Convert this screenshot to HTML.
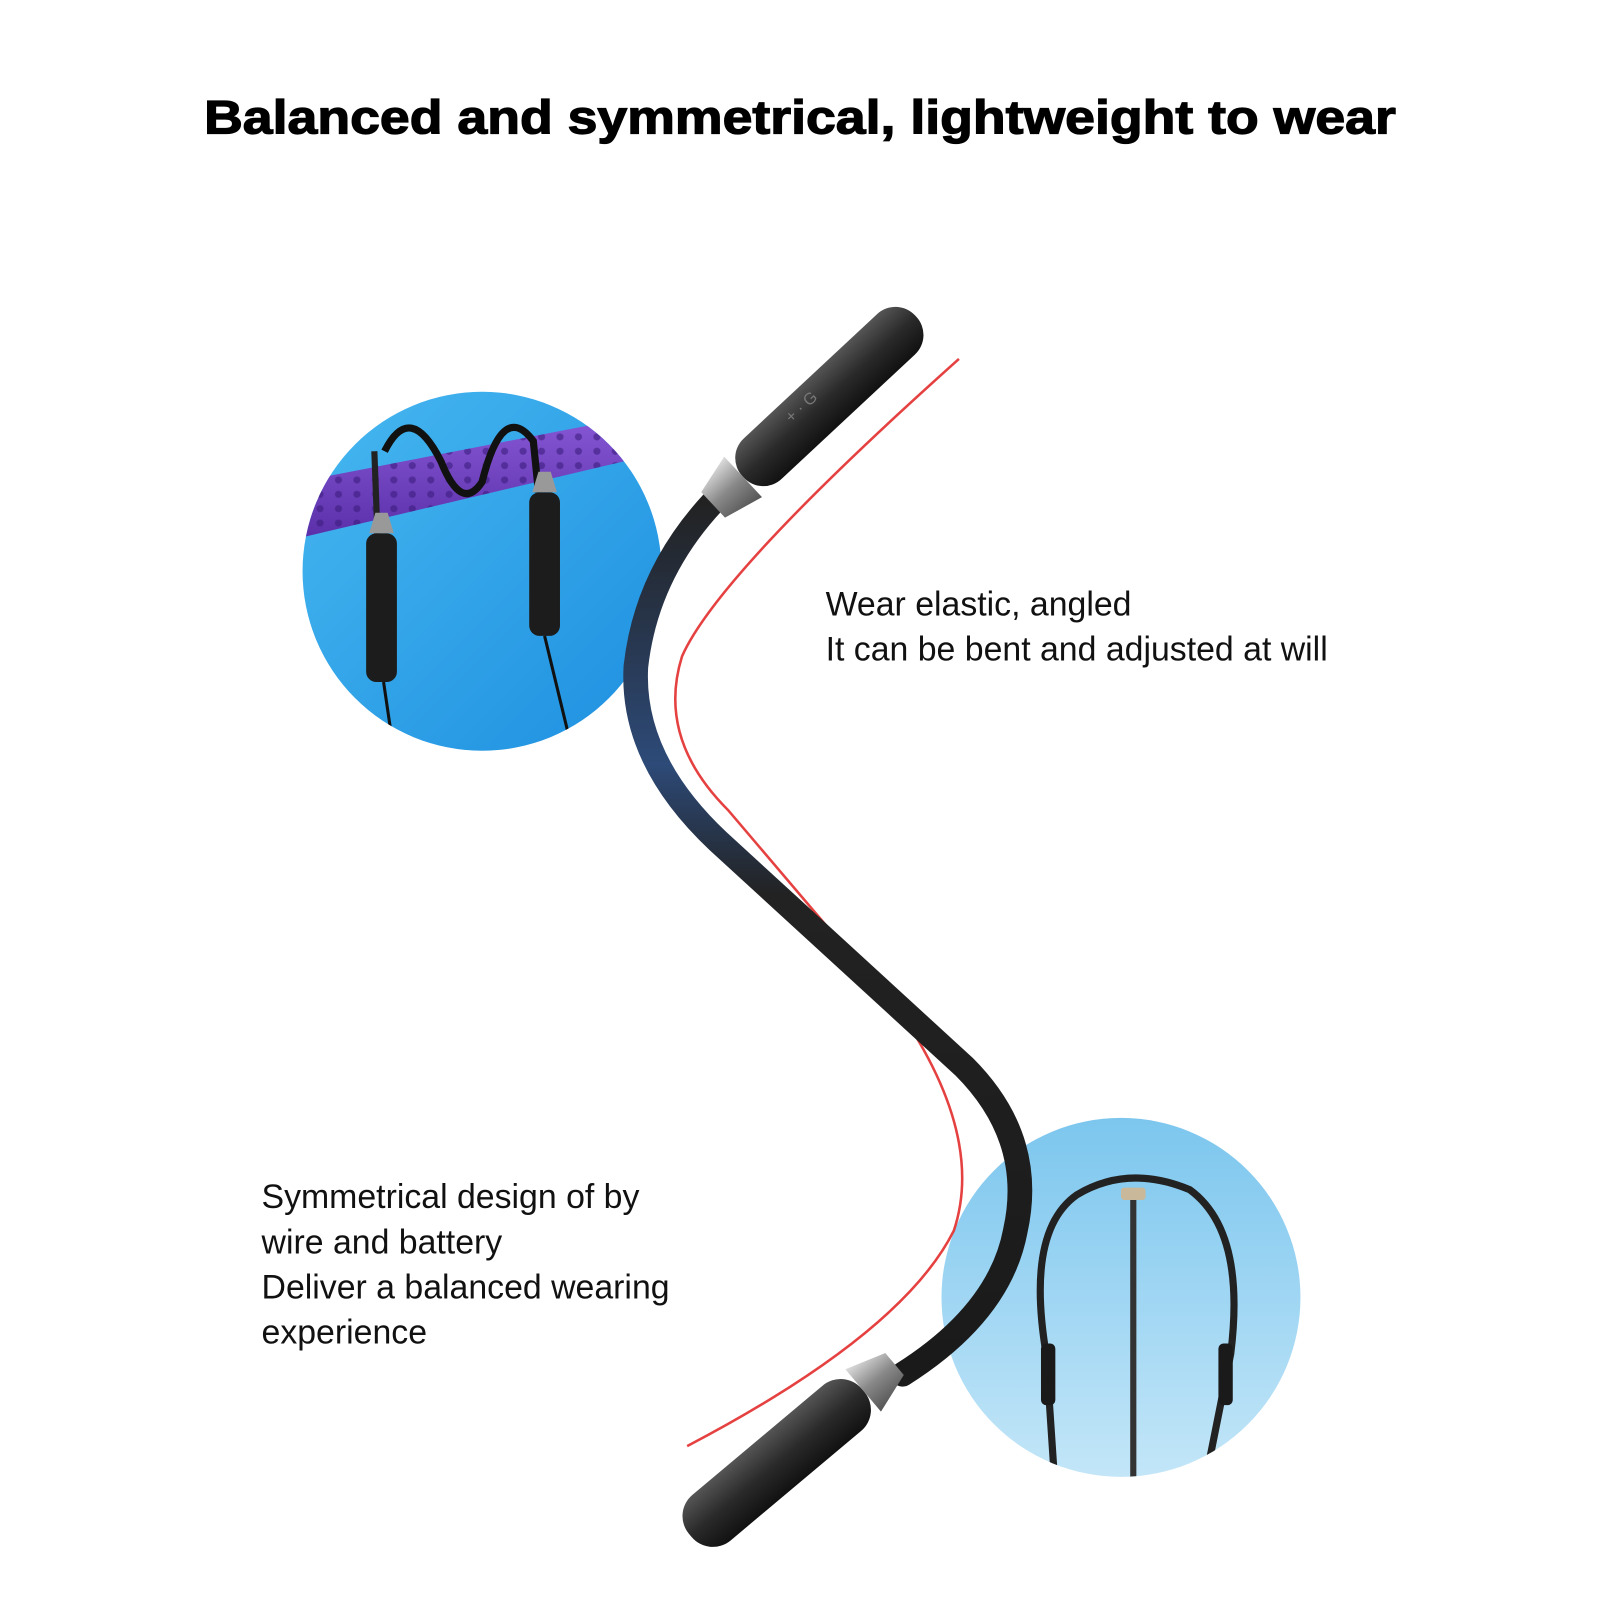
<!DOCTYPE html>
<html><head><meta charset="utf-8"><style>
html,body{margin:0;padding:0;background:#fff}
svg{display:block}
</style></head><body>
<svg width="1600" height="1600" viewBox="0 0 1600 1600" xmlns="http://www.w3.org/2000/svg">
<defs>
<linearGradient id="c1" x1="0" y1="0" x2="1" y2="1"><stop offset="0" stop-color="#47b8f0"/><stop offset="1" stop-color="#1d8fe0"/></linearGradient>
<linearGradient id="c2" x1="0" y1="0" x2="0" y2="1"><stop offset="0" stop-color="#7cc6ee"/><stop offset="1" stop-color="#c3e6f8"/></linearGradient>
<linearGradient id="pur" x1="0" y1="0" x2="0" y2="1"><stop offset="0" stop-color="#8a5ad8"/><stop offset="1" stop-color="#5a2fa8"/></linearGradient>
<linearGradient id="cab" x1="0" y1="0" x2="0" y2="1"><stop offset="0" stop-color="#222"/><stop offset="0.3" stop-color="#2d4a78"/><stop offset="0.45" stop-color="#222"/><stop offset="1" stop-color="#1a1a1a"/></linearGradient>
<linearGradient id="dev" x1="0" y1="0" x2="0" y2="1"><stop offset="0" stop-color="#555"/><stop offset="0.5" stop-color="#2a2a2a"/><stop offset="1" stop-color="#111"/></linearGradient>
<linearGradient id="sil" x1="0" y1="0" x2="0" y2="1"><stop offset="0" stop-color="#ddd"/><stop offset="0.5" stop-color="#888"/><stop offset="1" stop-color="#555"/></linearGradient>
<clipPath id="cp1"><circle cx="470" cy="557" r="175"/></clipPath>
<clipPath id="cp2"><circle cx="1093" cy="1265" r="175"/></clipPath>
<pattern id="dots" width="18" height="14" patternUnits="userSpaceOnUse"><circle cx="6" cy="6" r="3.5" fill="#3d1d80"/></pattern>
</defs>
<g transform="scale(1.0256)">
<text x="780" y="130" text-anchor="middle" font-family="Liberation Sans, sans-serif" font-weight="bold" font-size="46" stroke="#000" stroke-width="1.2" textLength="1162" lengthAdjust="spacingAndGlyphs">Balanced and symmetrical, lightweight to wear</text>

<circle cx="470" cy="557" r="175" fill="url(#c1)"/>
<g clip-path="url(#cp1)">
<path d="M290 470 L650 400 L650 440 L290 525 Z" fill="url(#pur)"/>
<path d="M290 470 L650 400 L650 440 L290 525 Z" fill="url(#dots)" opacity="0.6"/>
<path d="M375 440 Q400 390 430 450 Q450 500 470 470 Q490 390 520 430 L525 480" stroke="#111" stroke-width="7" fill="none"/>
<path d="M365 440 L368 520" stroke="#222" stroke-width="6" fill="none"/>
<rect x="357" y="520" width="30" height="145" rx="10" fill="#1c1c1c"/>
<path d="M360 520 L384 520 L378 500 L366 500Z" fill="#999"/>
<rect x="516" y="480" width="30" height="140" rx="10" fill="#1c1c1c"/>
<path d="M519 480 L543 480 L537 460 L525 460Z" fill="#999"/>
<line x1="374" y1="665" x2="385" y2="740" stroke="#111" stroke-width="3"/>
<line x1="531" y1="620" x2="560" y2="740" stroke="#111" stroke-width="3"/>
</g>

<circle cx="1093" cy="1265" r="175" fill="url(#c2)"/>
<g clip-path="url(#cp2)">
<path d="M1030 1470 L1020 1320 Q1000 1200 1050 1165 Q1100 1135 1160 1160 Q1215 1200 1200 1320 L1170 1470" stroke="#222" stroke-width="7" fill="none"/>
<line x1="1105" y1="1165" x2="1105" y2="1450" stroke="#333" stroke-width="6"/>
<rect x="1093" y="1158" width="24" height="12" rx="3" fill="#c9b89a"/>
<rect x="1015" y="1310" width="14" height="60" rx="5" fill="#1a1a1a"/>
<rect x="1188" y="1310" width="14" height="60" rx="5" fill="#1a1a1a"/>
<ellipse cx="1105" cy="1455" rx="50" ry="8" stroke="#333" stroke-width="3" fill="none"/>
</g>

<path d="M935 350 Q700 560 665 640 Q640 720 710 790 L880 990 Q960 1110 930 1200 Q880 1300 670 1410" stroke="#e02020" stroke-width="2.5" fill="none" opacity="0.85"/>

<path d="M695 490 Q630 560 620 650 Q615 740 700 820 L940 1040 Q1010 1110 990 1200 Q975 1280 880 1340" stroke="url(#cab)" stroke-width="24" fill="none" stroke-linecap="round"/>

<g transform="translate(805,390) rotate(-43)">
<rect x="-110" y="-27" width="230" height="54" rx="26" fill="url(#dev)"/>
<path d="M-110 -27 L-150 -17 L-150 17 L-110 27 Z" fill="url(#sil)"/>
<text x="-40" y="-6" font-family="Liberation Sans, sans-serif" font-size="16" fill="#777">+ · G</text>
</g>
<g transform="translate(765,1420) rotate(-40)">
<rect x="-120" y="-29" width="220" height="58" rx="27" fill="url(#dev)"/>
<path d="M100 -27 L140 -14 L140 14 L100 27 Z" fill="url(#sil)"/>
</g>

<g font-family="Liberation Sans, sans-serif" font-size="33" fill="#111">
<text x="805" y="600">Wear elastic, angled</text>
<text x="805" y="644">It can be bent and adjusted at will</text>
<text x="255" y="1178">Symmetrical design of by</text>
<text x="255" y="1222">wire and battery</text>
<text x="255" y="1266">Deliver a balanced wearing</text>
<text x="255" y="1310">experience</text>
</g>
</g>
</svg>
</body></html>
